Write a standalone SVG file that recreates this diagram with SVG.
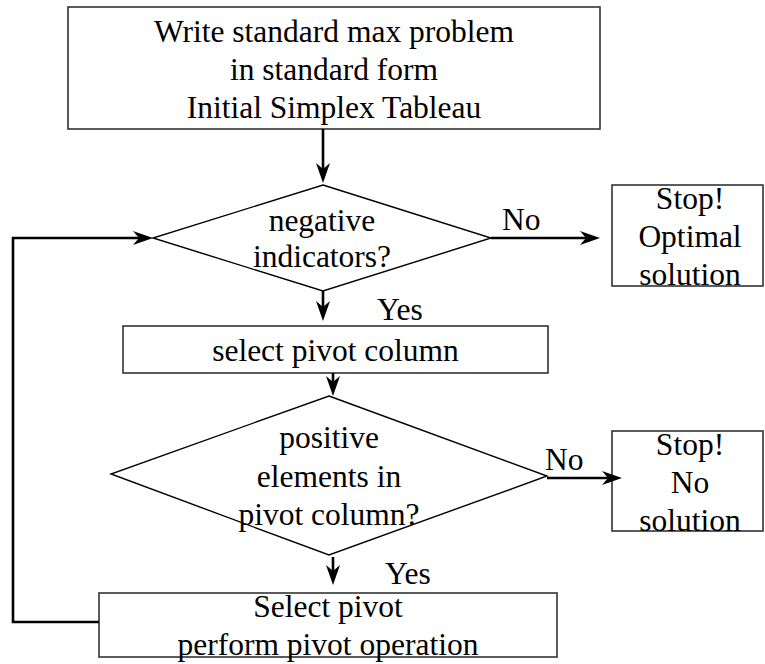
<svg xmlns="http://www.w3.org/2000/svg" width="765" height="664" viewBox="0 0 765 664">
  <style>
    .shape { fill: #ffffff; stroke: #333333; stroke-width: 1.6; }
    .diamond { fill: #ffffff; stroke: #000000; stroke-width: 1.4; }
    .conn { fill: none; stroke: #000000; stroke-width: 2.6; }
    .t { font-family: "Liberation Serif", "Times New Roman", serif; font-size: 31.5px; fill: #000000; text-anchor: middle; }
    .lbl { font-family: "Liberation Serif", "Times New Roman", serif; font-size: 31.5px; fill: #000000; }
  </style>
  <defs>
    <marker id="ah" markerUnits="userSpaceOnUse" markerWidth="24" markerHeight="16" refX="14" refY="7" orient="auto" overflow="visible">
      <path d="M20,7 L0,0 L6,7 L0,14 Z" fill="#000000"/>
    </marker>
  </defs>
  <rect width="765" height="664" fill="#ffffff"/>

  <g id="start">
    <rect class="shape" x="68" y="7" width="532" height="122"/>
    <text class="t" x="334" y="42">Write standard max problem</text>
    <text class="t" x="334" y="80">in standard form</text>
    <text class="t" x="334" y="118">Initial Simplex Tableau</text>
  </g>

  <g id="decision1">
    <polygon class="diamond" points="323,185 491,238 323,291 153,238"/>
    <text class="t" x="322" y="231">negative</text>
    <text class="t" x="322" y="267">indicators?</text>
  </g>

  <g id="stop-optimal">
    <rect class="shape" x="612" y="185" width="151" height="101"/>
    <text class="t" x="690" y="209">Stop!</text>
    <text class="t" x="690" y="247">Optimal</text>
    <text class="t" x="690" y="285">solution</text>
  </g>

  <g id="select-column">
    <rect class="shape" x="123" y="326" width="425" height="47"/>
    <text class="t" x="335.5" y="361">select pivot column</text>
  </g>

  <g id="decision2">
    <polygon class="diamond" points="329,396 547,476 329,555 111,474"/>
    <text class="t" x="329" y="448">positive</text>
    <text class="t" x="329" y="487">elements in</text>
    <text class="t" x="329" y="525">pivot column?</text>
  </g>

  <g id="stop-none">
    <rect class="shape" x="612" y="431" width="151" height="100"/>
    <text class="t" x="690" y="455">Stop!</text>
    <text class="t" x="690" y="493">No</text>
    <text class="t" x="690" y="531">solution</text>
  </g>

  <g id="pivot-op">
    <rect class="shape" x="99" y="593" width="458" height="64"/>
    <text class="t" x="328" y="617">Select pivot</text>
    <text class="t" x="328" y="655">perform pivot operation</text>
  </g>

  <g id="connectors">
    <line class="conn" x1="323" y1="129" x2="323" y2="177" marker-end="url(#ah)"/>
    <line class="conn" x1="491" y1="238" x2="594" y2="238" marker-end="url(#ah)"/>
    <line class="conn" x1="323" y1="291" x2="323" y2="315" marker-end="url(#ah)"/>
    <line class="conn" x1="333" y1="373" x2="333" y2="390" marker-end="url(#ah)"/>
    <line class="conn" x1="547" y1="478" x2="616" y2="478" marker-end="url(#ah)"/>
    <line class="conn" x1="333" y1="557" x2="333" y2="579" marker-end="url(#ah)"/>
    <polyline class="conn" points="99,622 13,622 13,238 147,238" marker-end="url(#ah)"/>
    <text class="lbl" x="502" y="230">No</text>
    <text class="lbl" x="377" y="320">Yes</text>
    <text class="lbl" x="545" y="470">No</text>
    <text class="lbl" x="385" y="584">Yes</text>
  </g>
</svg>
